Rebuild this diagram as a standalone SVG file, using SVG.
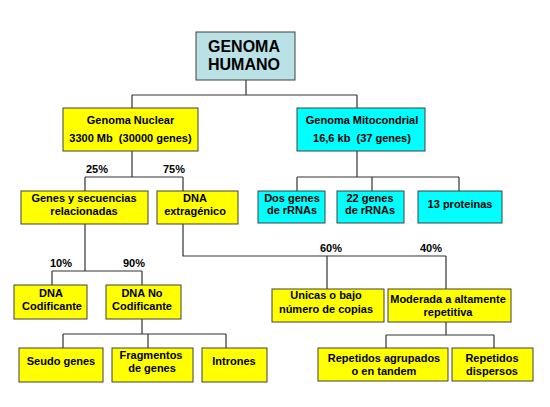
<svg xmlns="http://www.w3.org/2000/svg" width="550" height="407" viewBox="0 0 550 407">
<style>
.box{stroke:#404040;stroke-width:1}
.y{fill:#ffff00}
.c{fill:#00ffff}
.t{fill:#b9e1e6}
text{font-family:"Liberation Sans",Arial,sans-serif;font-weight:bold;font-size:11px;fill:#000;text-anchor:middle}
.title{font-size:16px;text-anchor:start}
.pct{text-anchor:start}
#connectors path{fill:none;stroke:#333;stroke-width:1.2}
</style>
<rect width="550" height="407" fill="#fff"/>
<g id="connectors">
<path d="M246,80V95M132,95H357M132,95V108M357,95V108"/>
<path d="M132,151V177M85,177H183M85,177V191M183,177V191"/>
<path d="M357,151V177M297,177H459M297,177V191M372,177V191M459,177V191"/>
<path d="M85,224V271M52,271H142M52,271V285M142,271V285"/>
<path d="M142,319V334M63,334H226M63,334V348M148,334V348M226,334V348"/>
<path d="M183,224V256H446M327,256V289M446,256V289"/>
<path d="M446,322V335M386,335H494M386,335V348M494,335V348"/>
</g>
<g id="pcts">
<text class="pct" x="86" y="173">25%</text>
<text class="pct" x="163" y="173">75%</text>
<text class="pct" x="50" y="267">10%</text>
<text class="pct" x="123" y="267">90%</text>
<text class="pct" x="320" y="252">60%</text>
<text class="pct" x="420" y="252">40%</text>
</g>
<g id="genoma-humano"><rect class="box t" x="196" y="32" width="99" height="48"/><text class="title" x="208" y="52">GENOMA</text><text class="title" x="208" y="70">HUMANO</text></g>
<g id="genoma-nuclear"><rect class="box y" x="63" y="108" width="135" height="43"/><text x="130.5" y="124">Genoma Nuclear</text><text x="130.5" y="142" xml:space="preserve">3300 Mb  (30000 genes)</text></g>
<g id="genoma-mito"><rect class="box c" x="297" y="108" width="128" height="43"/><text x="362" y="124">Genoma Mitocondrial</text><text x="362" y="142" xml:space="preserve">16,6 kb  (37 genes)</text></g>
<g id="genes-secuencias"><rect class="box y" x="21" y="191" width="127" height="33"/><text x="84" y="202">Genes y secuencias</text><text x="84" y="215">relacionadas</text></g>
<g id="dna-extragenico"><rect class="box y" x="157" y="191" width="81" height="33"/><text x="195" y="202">DNA</text><text x="195" y="215">extragénico</text></g>
<g id="dos-genes"><rect class="box c" x="258" y="191" width="67" height="32"/><text x="292" y="202">Dos genes</text><text x="292" y="214">de rRNAs</text></g>
<g id="veintidos-genes"><rect class="box c" x="337" y="191" width="67" height="32"/><text x="370" y="202">22 genes</text><text x="370" y="214">de rRNAs</text></g>
<g id="trece-proteinas"><rect class="box c" x="418" y="191" width="84" height="32"/><text x="460" y="208">13 proteinas</text></g>
<g id="dna-codificante"><rect class="box y" x="14" y="285" width="73" height="34"/><text x="51" y="297">DNA</text><text x="52" y="310">Codificante</text></g>
<g id="dna-no-codificante"><rect class="box y" x="106" y="285" width="75" height="34"/><text x="142" y="297">DNA No</text><text x="142" y="310">Codificante</text></g>
<g id="seudo-genes"><rect class="box y" x="19" y="348" width="84" height="34"/><text x="61" y="365">Seudo genes</text></g>
<g id="fragmentos"><rect class="box y" x="112" y="348" width="81" height="34"/><text x="151" y="359">Fragmentos</text><text x="152" y="372">de genes</text></g>
<g id="intrones"><rect class="box y" x="202" y="348" width="65" height="34"/><text x="234" y="365">Intrones</text></g>
<g id="unicas"><rect class="box y" x="272" y="289" width="112" height="33"/><text x="326" y="299">Unicas o bajo</text><text x="326" y="313">número de copias</text></g>
<g id="moderada"><rect class="box y" x="388" y="289" width="123" height="33"/><text x="448" y="303">Moderada a altamente</text><text x="448" y="316">repetitiva</text></g>
<g id="rep-agrupados"><rect class="box y" x="318" y="348" width="130" height="33"/><text x="384" y="362">Repetidos agrupados</text><text x="384" y="375">o en tandem</text></g>
<g id="rep-dispersos"><rect class="box y" x="452" y="348" width="81" height="33"/><text x="492" y="362">Repetidos</text><text x="492" y="375">dispersos</text></g>
</svg>
